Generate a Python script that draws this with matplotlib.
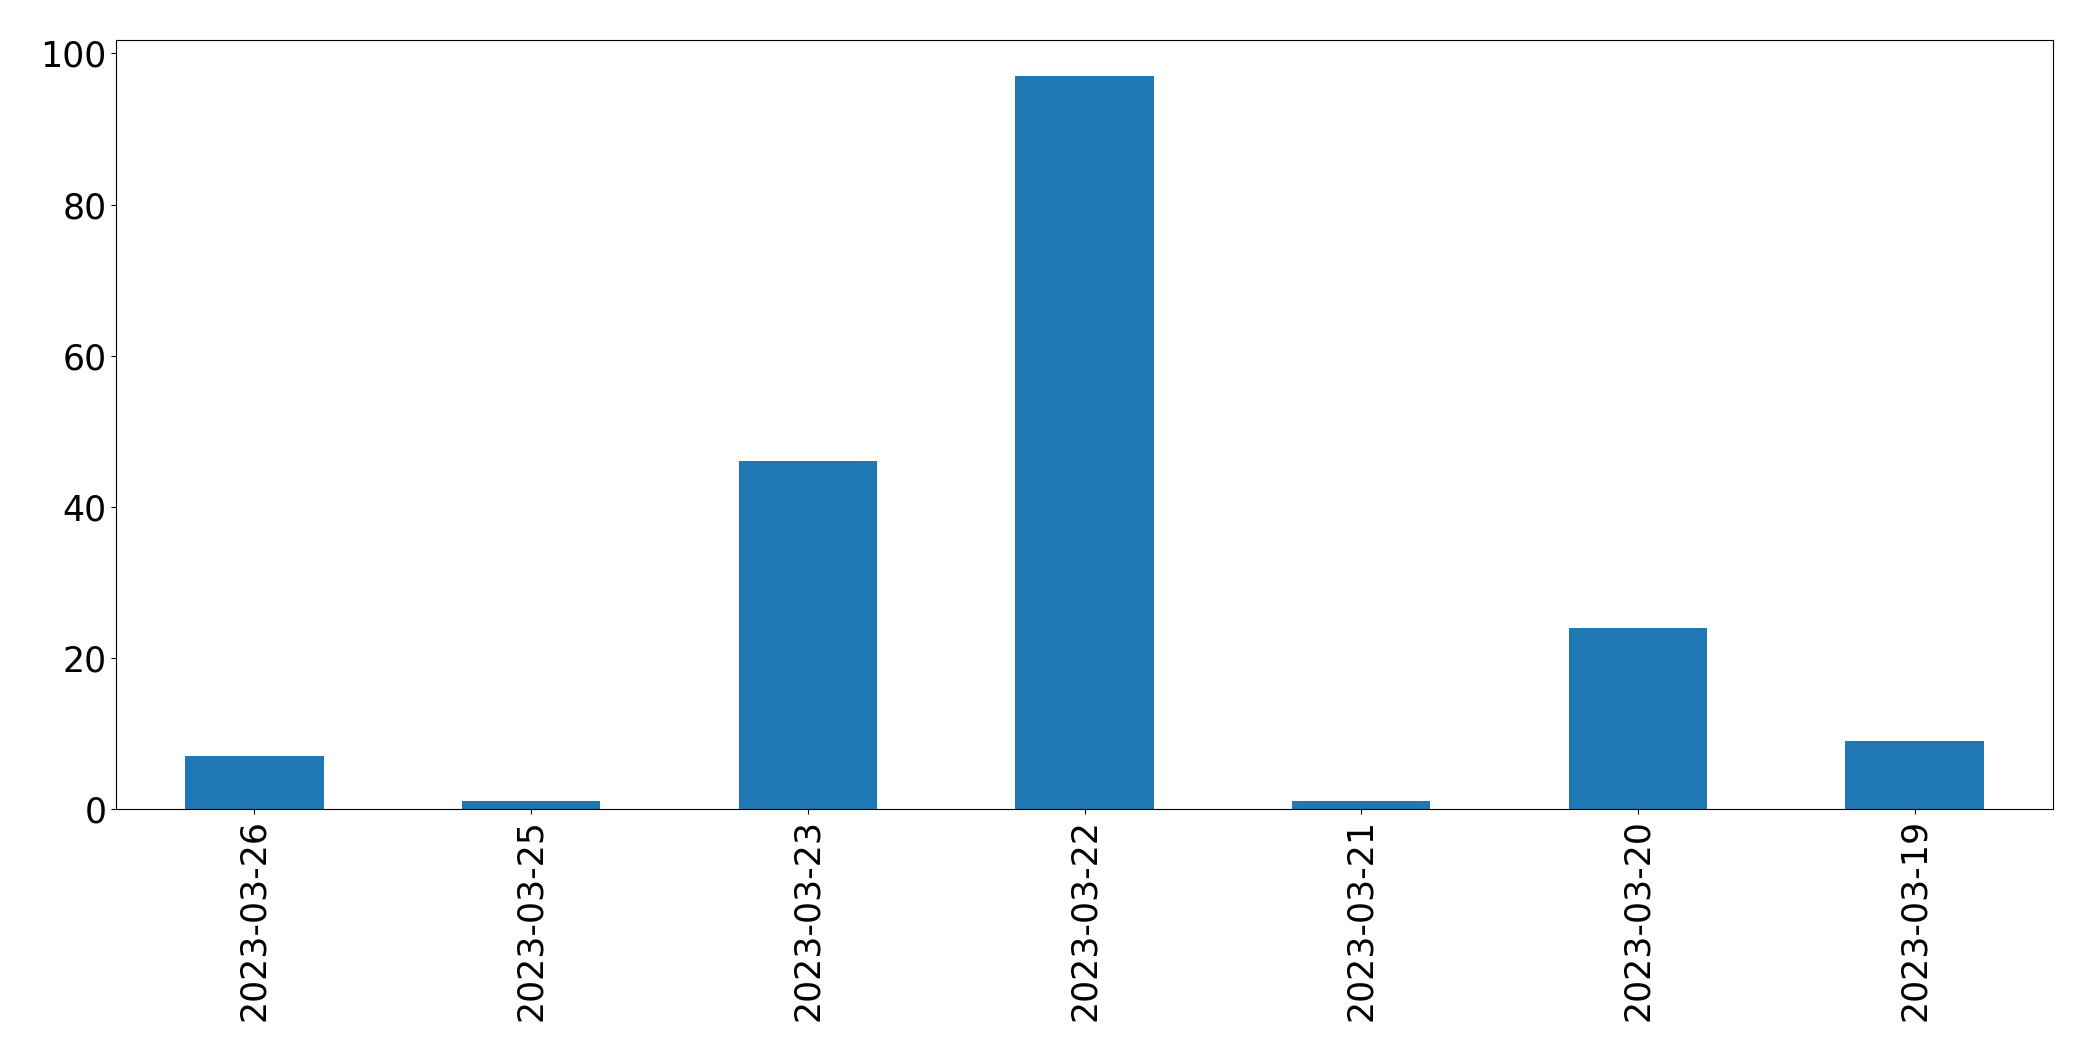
import matplotlib
matplotlib.use("Agg")
import matplotlib.pyplot as plt
import pandas as pd

dates = ["2023-03-26", "2023-03-25", "2023-03-23", "2023-03-22",
         "2023-03-21", "2023-03-20", "2023-03-19"]
counts = [7, 1, 46, 97, 1, 24, 9]

series = pd.Series(counts, index=dates)

fig = plt.figure(figsize=(20.93, 10.61), dpi=100)
ax = fig.add_axes([116 / 2093, 1 - 809 / 1061, (2053 - 116) / 2093, (809 - 39.5) / 1061])
series.plot(kind="bar", ax=ax, color="#1f77b4")
ax.tick_params(axis="both", labelsize=25)

fig.savefig("out.png", dpi=100)
